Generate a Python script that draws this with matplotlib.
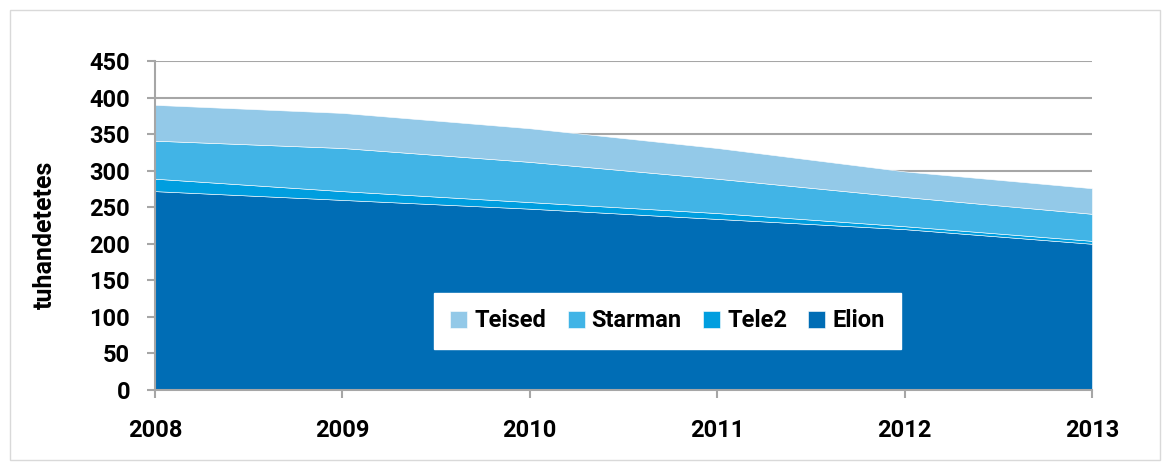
import numpy as np
import matplotlib.pyplot as plt
from matplotlib.patches import Rectangle

years = [2008, 2009, 2010, 2011, 2012, 2013]
elion = [272, 260, 248, 234, 220, 200]
tele2 = [17, 12, 9, 8, 4, 4]
starman = [52, 59, 55, 47, 40, 37]
teised = [49, 48, 46, 42, 35, 35]

names = ['Elion', 'Tele2', 'Starman', 'Teised']
colors = ['#006DB5', '#009EDF', '#41B4E6', '#93C9E8']

plt.rcParams['font.family'] = ['Roboto', 'DejaVu Sans']
plt.rcParams['font.weight'] = 'bold'

fig = plt.figure(figsize=(11.65, 4.65), dpi=100)
fig.patches.append(Rectangle((10 / 1165, 5 / 465), 1150 / 1165, 450 / 465,
                             transform=fig.transFigure, fill=False,
                             edgecolor='#D9D9D9', linewidth=1))
ax = fig.add_axes([155 / 1165, 1 - 390 / 465, 937 / 1165, 329 / 465])

ax.stackplot(years, elion, tele2, starman, teised, colors=colors,
             labels=names, edgecolor='white', linewidth=0.4)

ax.set_xlim(2008, 2013)
ax.set_ylim(0, 450)
ax.set_yticks(np.arange(0, 451, 50))
ax.set_xticks(years)
ax.set_axisbelow(True)
ax.yaxis.grid(True, color='#A6A6A6', linewidth=1.5)

for s in ['top', 'right']:
    ax.spines[s].set_visible(False)
for s in ['left', 'bottom']:
    ax.spines[s].set_color('#A6A6A6')
    ax.spines[s].set_linewidth(1.5)
ax.tick_params(axis='both', colors='#A6A6A6', width=1.5, length=6,
               labelcolor='black', labelsize=17)
ax.tick_params(axis='x', pad=15)
ax.tick_params(axis='y', pad=12)
for lbl in ax.get_xticklabels() + ax.get_yticklabels():
    lbl.set_fontweight('bold')

ax.set_ylabel('tuhandetetes', fontsize=18, fontweight='bold')
ax.yaxis.set_label_coords(-0.105, 0.47)

handles, labels = ax.get_legend_handles_labels()
ax.legend(handles[::-1], labels[::-1], ncol=4, loc='center',
          bbox_to_anchor=(0.547, 0.21), frameon=True, fancybox=False,
          edgecolor='white', framealpha=1, handlelength=0.72,
          handleheight=0.72, handletextpad=0.3, columnspacing=0.9,
          borderpad=0.7, prop={'size': 17, 'weight': 'bold'})

fig.savefig('out.png', dpi=100)
